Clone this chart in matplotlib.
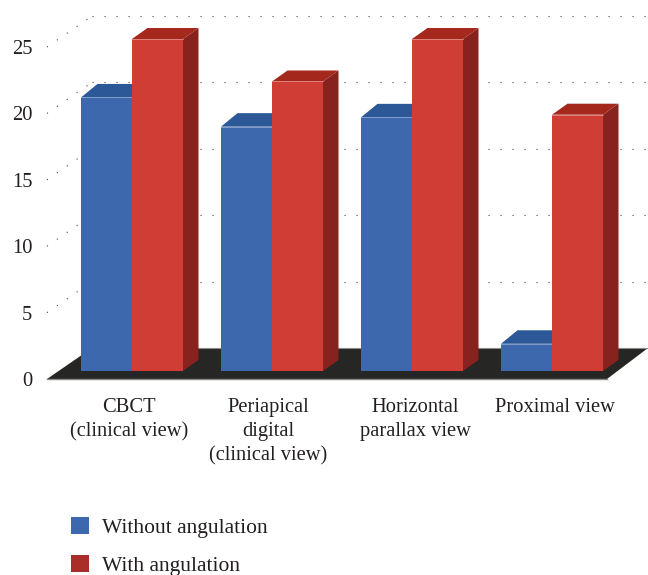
import numpy as np
import matplotlib
matplotlib.use("Agg")
import matplotlib.pyplot as plt
from matplotlib.patches import Polygon, Patch

categories = ["CBCT\n(clinical view)", "Periapical\ndigital\n(clinical view)",
              "Horizontal\nparallax view", "Proximal view"]
without_angulation = [20.6, 18.4, 19.1, 2.05]
with_angulation = [25.0, 21.8, 25.0, 19.3]
y_ticks = [0, 5, 10, 15, 20, 25]

W, H = 648, 575
plt.rcParams['font.family'] = ['Liberation Serif', 'DejaVu Serif']
fig = plt.figure(figsize=(W / 100, H / 100), dpi=100, facecolor='white')

# axes: the front edge of the floor, from value 0 to value 25
L, R, B, T = 47, 607, 379, 47
ax = fig.add_axes([L / W, 1 - B / H, (R - L) / W, (B - T) / H])
GROUP_PX = 140.0
UNIT_PX = (B - T) / 25.0
ax.set_xlim((L - 132) / GROUP_PX, (R - 132) / GROUP_PX)
ax.set_ylim(0, 25)
px = 1 / GROUP_PX   # one pixel in x data units
py = 1 / UNIT_PX    # one pixel in y data units

for s in ax.spines.values():
    s.set_visible(False)
ax.patch.set_visible(False)

x0, x1 = ax.get_xlim()
depth_l, depth_r, depth_y = 45 * px, 41 * px, 31 * py

# floor
ax.add_patch(Polygon([(x0, 0), (x1, 0), (x1 + depth_r, depth_y), (x0 + depth_l, depth_y)],
                     closed=True, fc='#262624', ec='none', clip_on=False, zorder=1))
ax.plot([x0, x1], [0, 0], color='#8a8a88', lw=1, clip_on=False, zorder=1.5)
ax.plot([x0 + depth_l, x1 + depth_r], [depth_y, depth_y], color='#8a8a88', lw=0.8,
        clip_on=False, zorder=1.5)

# dotted grid on the walls
dots = dict(color='#444444', lw=0.8, linestyle=(0, (1, 9.8)), clip_on=False, zorder=1)
for v in y_ticks[1:]:
    ax.plot([x0, x0 + depth_l], [v, v + depth_y], **dots)
    ax.plot([x0 + depth_l, x1 + depth_r], [v + depth_y, v + depth_y], **dots)

# bars
BASE = 8 * py
BAR_W = 51 * px

def bar3d(xl, value, front, top, side, dx, dy, z):
    xr = xl + BAR_W
    ytop = BASE + value
    ax.add_patch(Polygon([(xr, BASE), (xr + dx, BASE + dy), (xr + dx, ytop + dy), (xr, ytop)],
                         closed=True, fc=side, ec='none', clip_on=False, zorder=z))
    ax.add_patch(Polygon([(xl, ytop), (xl + dx, ytop + dy), (xr + dx, ytop + dy), (xr, ytop)],
                         closed=True, fc=top, ec='none', clip_on=False, zorder=z))
    ax.bar(xl, value, width=BAR_W, bottom=BASE, align='edge', color=front, lw=0,
           clip_on=False, zorder=z + 0.1)
    ax.plot([xl, xr], [ytop, ytop], color='white', alpha=0.35, lw=0.7, clip_on=False,
            zorder=z + 0.2)

for i in range(len(categories)):
    bar3d(i - BAR_W, without_angulation[i], '#3D68AE', '#2D5897', '#2D5897',
          16.5 * px, 13.5 * py, 3 + i)
    bar3d(i, with_angulation[i], '#CF3D34', '#A4281C', '#87221E',
          15.5 * px, 11 * py, 3.5 + i)

# tick labels
ax.set_yticks(y_ticks)
ax.set_xticks(np.arange(len(categories)) + np.array([-3, -4, 3, 3]) * px)
ax.set_xticklabels(categories, linespacing=1.33)
ax.tick_params(axis='both', length=0, labelsize=14.8, labelcolor='#231f20')
ax.tick_params(axis='y', pad=10.5)
ax.tick_params(axis='x', pad=14)
for lab in ax.get_yticklabels():
    lab.set_verticalalignment('center_baseline')

# legend
handles = [Patch(fc='#3D68AE', ec='none', label='Without angulation'),
           Patch(fc='#A92E2A', ec='none', label='With angulation')]
fig.legend(handles=handles, loc='upper left', bbox_to_anchor=(71 / W, 1 - 517 / H),
           frameon=False, fontsize=15.5, labelcolor='#231f20', borderpad=0, borderaxespad=0,
           handlelength=0.84, handleheight=0.84, handletextpad=0.6, labelspacing=0.78)

fig.savefig('out.png', dpi=100, facecolor='white')
